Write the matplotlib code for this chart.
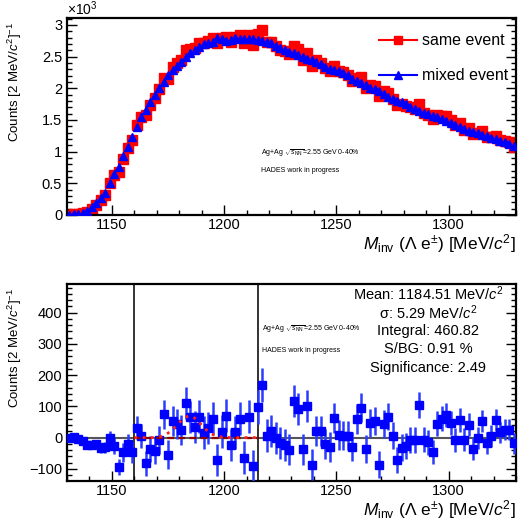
import numpy as np
import matplotlib
matplotlib.use('Agg')
import matplotlib.pyplot as plt
from matplotlib.ticker import MultipleLocator, FuncFormatter
from matplotlib.lines import Line2D

plt.rcParams['font.family'] = ['Liberation Sans', 'DejaVu Sans']
plt.rcParams['mathtext.fontset'] = 'custom'
plt.rcParams['mathtext.rm'] = 'Liberation Sans'
plt.rcParams['mathtext.it'] = 'Liberation Sans:italic'
plt.rcParams['mathtext.bf'] = 'Liberation Sans:bold'

# bin centres, 2 MeV bins from 1130 to 1330
mass = np.arange(1131, 1330, 2)

mixed = [5, 10, 20, 35, 70, 120, 185, 275, 350, 500,
         650, 765, 930, 1080, 1235, 1385, 1550, 1660, 1780, 1895,
         2000, 2095, 2205, 2290, 2360, 2420, 2490, 2550, 2605, 2655,
         2700, 2720, 2735, 2790, 2780, 2740, 2760, 2800, 2780, 2775,
         2775, 2775, 2760, 2747, 2726, 2710, 2668, 2630, 2605, 2579,
         2553, 2526, 2490, 2463, 2447, 2420, 2379, 2340, 2305, 2284,
         2268, 2247, 2205, 2152, 2110, 2079, 2047, 2010, 1989, 1963,
         1910, 1858, 1826, 1805, 1784, 1752, 1710, 1679, 1647, 1616,
         1595, 1568, 1542, 1510, 1484, 1458, 1426, 1389, 1353, 1332,
         1310, 1290, 1268, 1247, 1221, 1195, 1168, 1147, 1121, 1095]

same = [5, 13, 16, 25, 47, 97, 165, 241, 319, 498,
        624, 672, 883, 1059, 1188, 1417, 1555, 1578, 1743, 1853,
        1993, 2170, 2150, 2343, 2403, 2445, 2600, 2617, 2638, 2722,
        2716, 2750, 2795, 2719, 2799, 2810, 2737, 2817, 2840, 2711,
        2842, 2684, 2858, 2915, 2732, 2731, 2666, 2612, 2582, 2540,
        2670, 2618, 2453, 2564, 2360, 2441, 2400, 2320, 2274, 2346,
        2277, 2253, 2211, 2123, 2170, 2175, 2011, 2056, 2042, 1876,
        1954, 1925, 1832, 1734, 1752, 1726, 1703, 1672, 1752, 1609,
        1580, 1521, 1586, 1570, 1557, 1504, 1419, 1446, 1346, 1373,
        1274, 1288, 1322, 1231, 1227, 1252, 1185, 1172, 1146, 1077]

signal = [0, 3, -4, -10, -23, -23, -20, -34, -31, -2,
          -26, -93, -47, -21, -47, 32, 5, -82, -37, -42,
          -7, 75, -55, 53, 43, 25, 110, 67, 33, 67,
          16, 30, 60, -71, 19, 70, -23, 17, 60, -64,
          67, -91, 98, 168, 6, 21, -2, -18, -23, -39,
          117, 92, -37, 101, -87, 21, 21, -20, -31, 62,
          9, 6, 6, -29, 60, 96, -36, 46, 53, -87,
          44, 67, 6, -71, -32, -26, -7, -7, 105, -7,
          -15, -47, 44, 60, 73, 46, -7, 57, -7, 41,
          -36, -2, 54, -16, 6, 57, 17, 25, 25, -18]

signal_err = [2, 4, 4, 5, 7, 10, 13, 16, 18, 22,
              25, 26, 30, 33, 34, 38, 39, 40, 42, 43,
              45, 47, 46, 48, 49, 49, 51, 51, 51, 52,
              52, 52, 53, 52, 53, 53, 52, 53, 53, 52,
              53, 52, 53, 54, 52, 52, 52, 51, 51, 50,
              52, 51, 50, 51, 49, 49, 49, 48, 48, 48,
              48, 47, 47, 46, 47, 47, 45, 45, 45, 43,
              44, 44, 43, 42, 42, 42, 41, 41, 42, 40,
              40, 39, 40, 40, 39, 39, 38, 38, 37, 37,
              36, 36, 36, 35, 35, 35, 34, 34, 34, 33]

fit_x = [1160, 1168, 1170, 1172, 1174, 1176, 1178, 1180, 1182, 1184, 1186,
         1188, 1190, 1192, 1194, 1196, 1198, 1200, 1205, 1215]
fit_y = [0, 0, 2, 4, 10, 19, 33, 48, 62, 69, 67,
         56, 40, 25, 14, 6, 3, 1, 0, 0]

window = [1160, 1215]

stats = ['Mean: 1184.51 MeV/$c^{2}$', 'σ: 5.29 MeV/$c^{2}$', 'Integral: 460.82',
         'S/BG: 0.91 %', 'Significance: 2.49']

W, H = 519, 523
fig = plt.figure(figsize=(W / 100, H / 100), dpi=100)
ax1 = fig.add_axes([67 / W, 1 - 215 / H, 449 / W, 197 / H])
ax2 = fig.add_axes([67 / W, 1 - 481 / H, 449 / W, 197 / H])

xlab = r'$M_{\rm inv}$ ($\Lambda$ e$^{\pm}$) [MeV/$c^{2}$]'
ylab = r'Counts [2 MeV/$c^{2}$]$^{-1}$'
sys1 = r'Ag+Ag $\sqrt{s_{\rm NN}}$=2.55 GeV 0-40%'
sys2 = 'HADES work in progress'

# top: same vs mixed event
ax1.plot(mass, same, ls='none', marker='s', ms=6.5, color='#ff0000', zorder=2)
ax1.plot(mass, mixed, ls='none', marker='^', ms=5.5, color='#0000ff', zorder=3)
ax1.set_xlim(1130, 1330)
ax1.set_ylim(0, 3110)
ax1.yaxis.set_major_locator(MultipleLocator(500))
ax1.yaxis.set_minor_locator(MultipleLocator(100))
ax1.yaxis.set_major_formatter(FuncFormatter(lambda v, p: f'{v / 1000:g}'))
fig.text(67 / W, 1 - 9 / H, r'$\times$10$^{3}$', fontsize=10, ha='left', va='center')

handles = [Line2D([], [], color='#ff0000', marker='s', ms=6, lw=1.5),
           Line2D([], [], color='#0000ff', marker='^', ms=6, lw=1.5)]
ax1.legend(handles, ['same event', 'mixed event'], loc='upper left',
           bbox_to_anchor=(0.68, 0.955), frameon=False, fontsize=11.5,
           handlelength=2.4, handletextpad=0.3, labelspacing=1.25, borderaxespad=0)

ax1.text(0.432, 0.315, sys1, transform=ax1.transAxes, fontsize=5, ha='left', va='center')
ax1.text(0.432, 0.225, sys2, transform=ax1.transAxes, fontsize=5, ha='left', va='center')

# bottom: signal after background subtraction
ax2.axhline(0, color='#555555', lw=1.5, zorder=1)
for w in window:
    ax2.axvline(w, color='#222222', lw=1.3, zorder=1)
ax2.errorbar(mass, signal, yerr=signal_err, fmt='s', ms=5.5, color='#0000ff',
             ecolor='#2a3cff', elinewidth=1.8, capsize=0, zorder=3)
ax2.plot(window, [0, 0], ls=(0, (3, 2)), color='#8b0000', lw=1.6, zorder=4)
ax2.plot(fit_x, fit_y, ls=(0, (1, 2)), color='#ff2020', lw=2.0, zorder=5)
ax2.set_xlim(1130, 1330)
ax2.set_ylim(-139, 492)
ax2.yaxis.set_major_locator(MultipleLocator(100))
ax2.yaxis.set_minor_locator(MultipleLocator(20))

for k, s in enumerate(stats):
    ax2.text(0.805, 0.95 - k * 0.094, s, transform=ax2.transAxes, fontsize=10.5,
             ha='center', va='center')
ax2.text(0.435, 0.77, sys1, transform=ax2.transAxes, fontsize=5, ha='left', va='center')
ax2.text(0.435, 0.66, sys2, transform=ax2.transAxes, fontsize=5, ha='left', va='center')

for ax in (ax1, ax2):
    ax.xaxis.set_major_locator(MultipleLocator(50))
    ax.xaxis.set_minor_locator(MultipleLocator(10))
    ax.tick_params(which='both', direction='in', right=True, top=False, labelsize=10.5, width=1)
    ax.tick_params(which='major', length=7)
    ax.tick_params(which='minor', length=3.5)
    ax.tick_params(axis='x', pad=2)
    for sp in ax.spines.values():
        sp.set_linewidth(1.6)
    ax.set_xlabel(xlab, fontsize=12.5, loc='right', labelpad=0)
    ax.set_ylabel(ylab, fontsize=9.5, loc='top', va='center')
    ax.yaxis.set_label_coords(-52 / 449, 0.98)

fig.savefig('out.png', dpi=100)
